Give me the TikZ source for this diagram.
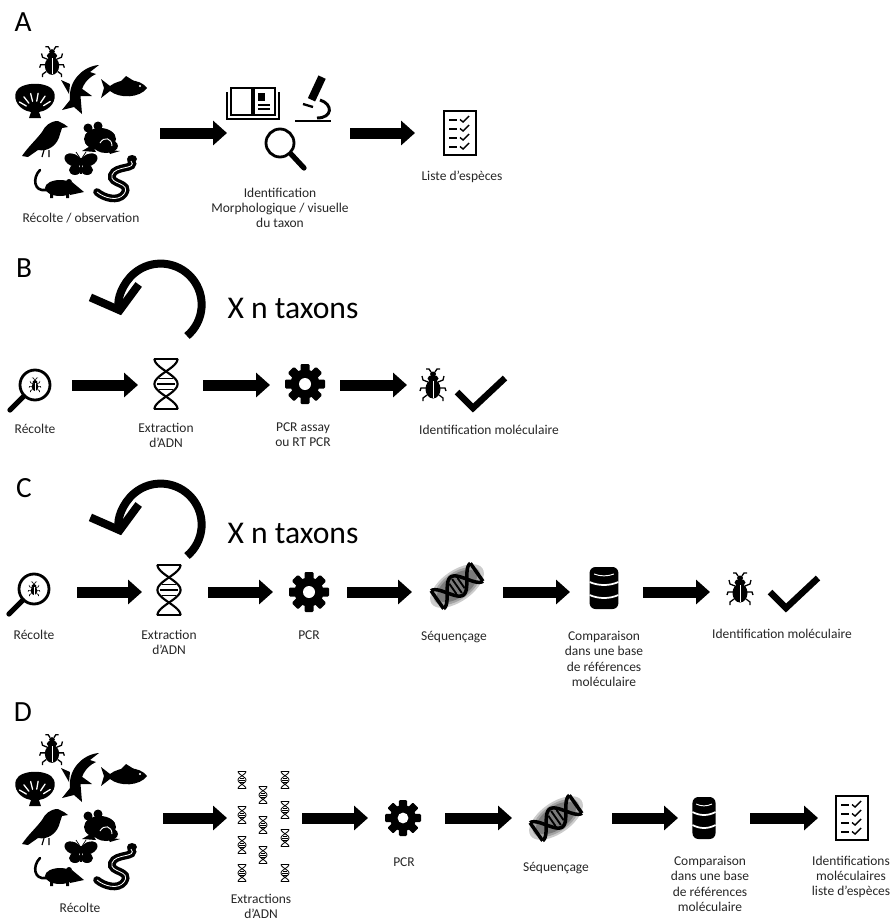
\documentclass[tikz,border=0pt]{standalone}
\usepackage{fontspec}
\setmainfont{Carlito}
\usetikzlibrary{arrows.meta}
\usetikzlibrary{positioning}

\tikzset{
  bigarrow/.style={line width=0.33cm, -{Triangle[length=0.42cm,width=0.72cm]}},
  looparrow/.style={line width=0.24cm, -{Straight Barb[length=0.6cm,width=1.5cm]}},
  slot/.style={minimum width=#1*0.03cm, minimum height=0.6cm, inner sep=0pt, outer sep=0pt},
  txt/.style={align=center, font=\fontsize{11.5}{13}\selectfont, text=black!85},
  panel/.style={font=\fontsize{25}{25}\selectfont},
  boucle/.style={font=\fontsize{27}{27}\selectfont},
  beetleleg/.style={line width=1.1pt},
  dnaline/.style={line width=1.8pt},
  dnarung/.style={line width=1pt},
  beetle/.pic={
    \fill (0,4) ellipse [x radius=7.5, y radius=9.5];
    \fill (0,-6.5) ellipse [x radius=5.5, y radius=3.5];
    \fill (0,-11) ellipse [x radius=3, y radius=2.5];
    \draw[white, line width=.5pt] (0,-4) -- (0,13);
    \draw[beetleleg] (-5,-3) -- (-10,-5) -- (-11,-9) (5,-3) -- (10,-5) -- (11,-9)
      (-7,3) -- (-12,3) -- (-13,6) (7,3) -- (12,3) -- (13,6)
      (-6,10) -- (-10,13) -- (-10,16) (6,10) -- (10,13) -- (10,16)
      (-2,-13) -- (-4,-16) -- (-7,-16) (2,-13) -- (4,-16) -- (7,-16);
  },
  dna/.pic={
    \draw[dnaline] plot[domain=-24:24, samples=41, smooth] ({11*cos(7.5*\x)}, \x);
    \draw[dnaline] plot[domain=-24:24, samples=41, smooth] ({-11*cos(7.5*\x)}, \x);
    \draw[dnaline] (-11,-24) -- (11,-24) (-11,24) -- (11,24);
    \foreach \y in {-5,0,5}
      \draw[dnarung] ({-11*cos(7.5*\y)+2.5}, \y) -- ({11*cos(7.5*\y)-2.5}, \y);
  },
  seqdna/.pic={
    \foreach \r/\o in {31/.2, 27/.2, 23/.25}
      \fill[black, opacity=\o] (0,0) ellipse [x radius=.5*\r, y radius=\r];
    \pic[transform shape, dnaline/.style={line width=3pt}, dnarung/.style={line width=1.6pt}] {dna};
  },
  gear/.pic={
    \fill (0,0) circle (14.5);
    \foreach \a in {0,45,...,315}
      \fill[rotate=\a, rounded corners=1pt] (-4.5,-20) rectangle (4.5,0);
    \fill[white] (0,0) circle (6);
  },
  database/.pic={
    \fill[rounded corners=5pt] (-16,-21) rectangle (16,21);
    \draw[white, line width=1.5pt] (-16,-6) .. controls (-6,-2) and (6,-2) .. (16,-6)
      (-16,7) .. controls (-6,11) and (6,11) .. (16,7);
    \draw[white, line width=.8pt] (-11,-14) .. controls (-4,-11.5) and (4,-11.5) .. (11,-14);
  },
  checklist/.pic={
    \draw[line width=2.2pt] (-16,-22) rectangle (16,22);
    \foreach \y in {-13,-4,5,14} {
      \draw[line width=2pt] (-11,\y) -- (-3,\y);
      \draw[line width=1.2pt] (0,\y-.5) -- (3,\y+2) -- (9,\y-4);
    }
  },
  loupe/.pic={
    \draw[line width=2.4pt] (0,0) circle (15);
    \draw[line width=4.5pt, line cap=round] (-11.5,11.5) -- (-25,25);
    \pic[transform shape, scale=.45, beetleleg/.style={line width=.5pt}] {beetle};
  },
  check/.pic={
    \draw[line width=5.5pt] (0,0) -- (16,16) -- (48,-14);
  },
  faune/.pic={
    % scarabee
    \pic[transform shape, scale=.95] at (52,62) {beetle};
    % coquille
    \fill (29,118) -- (31,112) .. controls (19,110) and (13,100) .. (16,92)
      .. controls (20,81) and (50,81) .. (54,92)
      .. controls (57,100) and (51,110) .. (39,112) -- (41,118) -- cycle;
    \foreach \a in {-150,-128,-104,-80,-56,-32}
      \draw[white, line width=1.1pt, line cap=round] (35,111) ++(\a:10) -- ++(\a:8);
    % requin
    \fill (99,65) .. controls (84,66) and (68,80) .. (70,100)
      -- (62,110) -- (74,107) -- (82,114) -- (81,102)
      .. controls (79,90) and (85,79) .. (96,74) -- (90,72) -- cycle;
    \fill (70,84) -- (61,80) -- (69,94) -- cycle;
    \fill (81,88) -- (92,96) -- (80,96) -- cycle;
    % poisson
    \fill (147,88) .. controls (140,78) and (120,78) .. (110,86) -- (101,79) -- (104,88)
      -- (101,98) -- (110,91) .. controls (120,99) and (140,98) .. (147,88) -- cycle;
    \fill (120,82) -- (126,76) -- (134,81) -- cycle;
    \fill[white] (140,86) circle (1.2);
    % oiseau
    \fill (64,124) -- (58,121) .. controls (50,121) and (45,126) .. (42,132)
      .. controls (36,140) and (28,147) .. (22,156) -- (28,157) -- (38,150)
      .. controls (48,152) and (58,145) .. (60,134) -- (62,128) -- (68,127) -- cycle;
    \draw[line width=1pt] (44,150) -- (42,157) (49,150) -- (49,157);
    % grenouille
    \fill (100,139) ellipse [x radius=16, y radius=11];
    \fill (88,128) circle (4.5);
    \fill (98,126) circle (4.5);
    \fill (82,151) -- (92,145) -- (96,152) -- cycle;
    \fill (106,146) ellipse [x radius=12, y radius=7];
    \fill (108,150) -- (120,151) -- (110,154) -- cycle;
    \draw[white, line width=.8pt] (100,143) .. controls (104,136) and (112,138) .. (112,146);
    % papillon
    \fill[rotate around={-25:(73,160)}] (73,160) ellipse [x radius=9, y radius=6];
    \fill[rotate around={25:(89,160)}] (89,160) ellipse [x radius=9, y radius=6];
    \fill (75,170) ellipse [x radius=6, y radius=5];
    \fill (87,170) ellipse [x radius=6, y radius=5];
    \draw[white, line width=2.5pt] (81,154) -- (81,177);
    \draw[line width=1.5pt] (81,158) -- (81,174);
    \draw[line width=.6pt] (80,158) -- (76,152) (82,158) -- (86,152);
    % rat
    \fill (60,188) ellipse [x radius=15, y radius=8];
    \fill (72,182) -- (84,192) -- (70,195) -- cycle;
    \fill (69,182) circle (3);
    \draw[line width=2.2pt, line cap=round] (46,190) .. controls (34,192) and (32,178) .. (40,170);
    \fill (50,194) rectangle (53,198) (66,194) rectangle (69,198);
    % serpent
    \draw[line width=6.5pt, line cap=round] (131,161) .. controls (138,170) and (115,165) .. (112,175)
      .. controls (109,185) and (132,182) .. (124,194)
      .. controls (118,202) and (104,198) .. (97,192);
    \fill (132,159) ellipse [x radius=5, y radius=4];
    \draw[white, line width=.7pt] (131,161) .. controls (138,170) and (115,165) .. (112,175)
      .. controls (109,185) and (132,182) .. (124,194)
      .. controls (118,202) and (104,198) .. (97,192);
  }
}

\begin{document}
\begin{tikzpicture}[x=0.03cm, y=-0.03cm]
\useasboundingbox (0,0) rectangle (891,923);

% A : inventaire classique
\node[panel] (la) at (23,22) {A};
\node[slot=150] (afaune) at (85,133) {};
\node[slot=123] (aident) at (288.5,133) {};
\node[slot=90] (aliste) at (460,133) {};
\pic at (0,0) {faune};
\draw[line width=2pt] (231,88) rectangle (252,115) (254,88) rectangle (275,115);
\draw[line width=2pt] (227,92) -- (227,119) -- (279,119) -- (279,92);
\fill (258,93) rectangle (265,101);
\draw[line width=1pt] (258,105) -- (270,105) (258,109) -- (270,109);
\draw[line width=2.5pt] (295,121) -- (331,121);
\fill[rotate around={-25:(317,88)}] (313,76) rectangle (321,101);
\draw[line width=2.5pt] (320,100) .. controls (333,104) and (333,118) .. (317,118);
\draw[line width=2pt] (303,104) -- (313,107);
\draw[line width=2.4pt] (280,143) circle (14);
\draw[line width=4.5pt, line cap=round] (291,154) -- (304,168);
\pic at (460,133) {checklist};
\draw[bigarrow] (afaune) -- (aident);
\draw[bigarrow] (aident) -- (aliste);
\node[txt] (tafaune) at (81,218) {Récolte / observation};
\node[txt] (taident) at (280,208) {Identification\\Morphologique / visuelle\\du taxon};
\node[txt] (taliste) at (462,177) {Liste d'espèces};

% B : test cible
\node[panel] (lb) at (24,268) {B};
\coordinate (bloop) at (187,336);
\draw[looparrow] (bloop) arc[start angle=50, end angle=-195, radius=41];
\node[boucle] (bn) at (293,308) {X n taxons};
\node[slot=67] (brec) at (38.5,385) {};
\node[slot=65] (bext) at (170.5,385) {};
\node[slot=70] (bpcr) at (305,385) {};
\node[slot=153] (bid) at (483.5,385) {};
\pic at (35,385) {loupe};
\pic[scale=1.05] at (166,384) {dna};
\pic at (305,384) {gear};
\pic at (433,385) {beetle};
\pic at (457,392) {check};
\draw[bigarrow] (brec) -- (bext);
\draw[bigarrow] (bext) -- (bpcr);
\draw[bigarrow] (bpcr) -- (bid);
\node[txt] (tbrec) at (35,429) {Récolte};
\node[txt] (tbext) at (166,435) {Extraction\\d'ADN};
\node[txt] (tbpcr) at (303,435) {PCR assay\\ou RT PCR};
\node[txt] (tbid) at (489,430) {Identification moléculaire};

% C : barcoding
\node[panel] (lc) at (24,488) {C};
\coordinate (cloop) at (187,556);
\draw[looparrow] (cloop) arc[start angle=50, end angle=-195, radius=41];
\node[boucle] (cn) at (293,533) {X n taxons};
\node[slot=72] (crec) at (41,592) {};
\node[slot=66] (cext) at (175,592) {};
\node[slot=74] (cpcr) at (310,592) {};
\node[slot=91] (cseq) at (457.5,592) {};
\node[slot=73] (ccomp) at (606.5,592) {};
\node[slot=150] (cid) at (785,592) {};
\pic at (34,589) {loupe};
\pic[scale=1.05] at (169,590) {dna};
\pic at (309,592) {gear};
\pic[rotate=-55] at (457,586) {seqdna};
\pic[xscale=.9] at (604,588) {database};
\pic at (740,589) {beetle};
\pic at (770,592) {check};
\draw[bigarrow] (crec) -- (cext);
\draw[bigarrow] (cext) -- (cpcr);
\draw[bigarrow] (cpcr) -- (cseq);
\draw[bigarrow] (cseq) -- (ccomp);
\draw[bigarrow] (ccomp) -- (cid);
\node[txt] (tcrec) at (34,635) {Récolte};
\node[txt] (tcext) at (169,642) {Extraction\\d'ADN};
\node[txt] (tcpcr) at (309,635) {PCR};
\node[txt] (tcseq) at (454,637) {Séquençage};
\node[txt] (tccomp) at (604,659) {Comparaison\\dans une base\\de références\\moléculaire};
\node[txt] (tcid) at (782,634) {Identification moléculaire};

% D : metabarcoding
\node[panel] (ld) at (23,712) {D};
\node[slot=153] (dfaune) at (86.5,818) {};
\node[slot=75] (dext) at (264.5,818) {};
\node[slot=77] (dpcr) at (406.5,818) {};
\node[slot=100] (dseq) at (562,818) {};
\node[slot=72] (dcomp) at (714,818) {};
\node[slot=67] (did) at (851.5,818) {};
\pic at (0,688) {faune};
\foreach \u/\v in {242/780, 242/815, 242/845, 242/873, 263/795, 263/825, 263/855,
                   285/780, 285/810, 285/838, 285/873}
  \pic[scale=.36, dnaline/.style={line width=.7pt}, dnarung/.style={line width=.4pt}] at (\u,\v) {dna};
\pic[scale=.9] at (403,818) {gear};
\pic[rotate=-55] at (556,818) {seqdna};
\pic[xscale=.72] at (704,818) {database};
\pic at (852,818) {checklist};
\draw[bigarrow] (dfaune) -- (dext);
\draw[bigarrow] (dext) -- (dpcr);
\draw[bigarrow] (dpcr) -- (dseq);
\draw[bigarrow] (dseq) -- (dcomp);
\draw[bigarrow] (dcomp) -- (did);
\node[txt] (tdfaune) at (80,908) {Récolte};
\node[txt] (tdext) at (261,906) {Extractions\\d'ADN};
\node[txt] (tdpcr) at (404,862) {PCR};
\node[txt] (tdseq) at (556,868) {Séquençage};
\node[txt] (tdcomp) at (710,884) {Comparaison\\dans une base\\de références\\moléculaire};
\node[txt] (tdid) at (851,877) {Identifications\\moléculaires\\liste d'espèces};
\end{tikzpicture}
\end{document}
